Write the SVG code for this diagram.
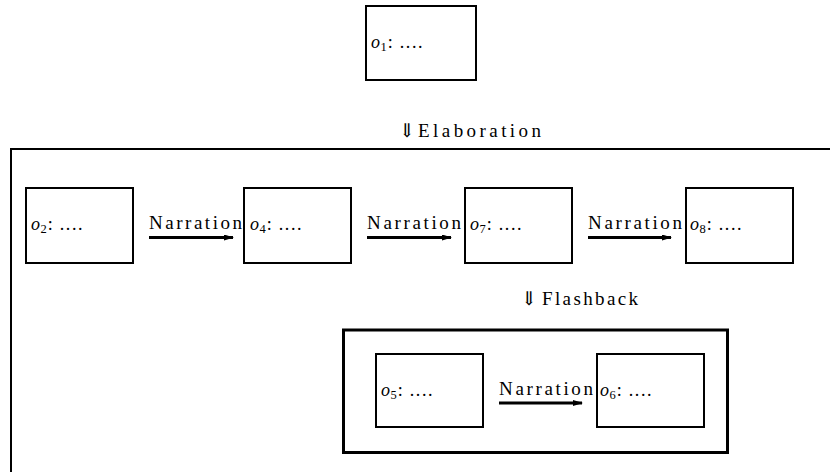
<svg xmlns="http://www.w3.org/2000/svg" width="830" height="472" viewBox="0 0 830 472">
<defs>
<style>
.box{fill:#fff;stroke:#000;stroke-width:2}
.frame{fill:none;stroke:#000;stroke-width:2}
.fb{fill:none;stroke:#000;stroke-width:3}
.t{font-family:"Liberation Serif","DejaVu Serif",serif;font-size:18px;fill:#000}
.lbl{font-size:19px}
.it{font-style:italic}
.sub{font-size:12.5px}
.dots{letter-spacing:1.6px}
.arr{stroke:#000;stroke-width:3;fill:none;marker-end:url(#ah)}
</style>
<marker id="ah" viewBox="0 0 10 6" refX="9" refY="3" markerWidth="3.4" markerHeight="2" orient="auto" markerUnits="strokeWidth">
<path d="M0,0 L10,3 L0,6 Z" fill="#000"/>
</marker>
</defs>
<rect width="830" height="472" fill="#fff"/>

<g id="frame-elaboration">
<path class="frame" d="M830,149 H11 V472"/>
</g>
<g id="frame-flashback">
<rect class="fb" x="343.5" y="330" width="384" height="122.5"/>
</g>

<g id="n1">
<rect class="box" x="366" y="6" width="110" height="74"/>
<text class="t" x="371" y="48"><tspan class="it">o</tspan><tspan class="sub" dx="0.5" dy="3">1</tspan><tspan dy="-3" dx="1">:</tspan><tspan class="dots" dx="7">....</tspan></text>
</g>
<g id="n2">
<rect class="box" x="26" y="188" width="107" height="75"/>
<text class="t" x="31" y="230"><tspan class="it">o</tspan><tspan class="sub" dx="0.5" dy="3">2</tspan><tspan dy="-3" dx="1">:</tspan><tspan class="dots" dx="7">....</tspan></text>
</g>
<g id="n4">
<rect class="box" x="244" y="188" width="107" height="75"/>
<text class="t" x="250" y="230"><tspan class="it">o</tspan><tspan class="sub" dx="0.5" dy="3">4</tspan><tspan dy="-3" dx="1">:</tspan><tspan class="dots" dx="7">....</tspan></text>
</g>
<g id="n7">
<rect class="box" x="465" y="188" width="107" height="75"/>
<text class="t" x="470" y="230"><tspan class="it">o</tspan><tspan class="sub" dx="0.5" dy="3">7</tspan><tspan dy="-3" dx="1">:</tspan><tspan class="dots" dx="7">....</tspan></text>
</g>
<g id="n8">
<rect class="box" x="686" y="188" width="107" height="75"/>
<text class="t" x="690" y="230"><tspan class="it">o</tspan><tspan class="sub" dx="0.5" dy="3">8</tspan><tspan dy="-3" dx="1">:</tspan><tspan class="dots" dx="7">....</tspan></text>
</g>
<g id="n5">
<rect class="box" x="376" y="354" width="107" height="73"/>
<text class="t" x="381" y="396"><tspan class="it">o</tspan><tspan class="sub" dx="0.5" dy="3">5</tspan><tspan dy="-3" dx="1">:</tspan><tspan class="dots" dx="7">....</tspan></text>
</g>
<g id="n6">
<rect class="box" x="597" y="354" width="107" height="73"/>
<text class="t" x="600" y="396"><tspan class="it">o</tspan><tspan class="sub" dx="0.5" dy="3">6</tspan><tspan dy="-3" dx="1">:</tspan><tspan class="dots" dx="7">....</tspan></text>
</g>

<g id="connectors">
<line class="arr" x1="149" y1="237.5" x2="233" y2="237.5"/>
<line class="arr" x1="367" y1="237.5" x2="451" y2="237.5"/>
<line class="arr" x1="588" y1="237.5" x2="671" y2="237.5"/>
<line class="arr" x1="499" y1="403" x2="582" y2="403"/>
<text class="t lbl" x="149" y="229" textLength="93">Narration</text>
<text class="t lbl" x="367" y="229" textLength="94">Narration</text>
<text class="t lbl" x="588" y="229" textLength="94">Narration</text>
<text class="t lbl" x="499" y="395" textLength="94">Narration</text>
<text class="t lbl" y="137"><tspan x="399">⇓</tspan><tspan x="418" textLength="123">Elaboration</tspan></text>
<text class="t lbl" y="305"><tspan x="521">⇓</tspan><tspan x="542" textLength="96">Flashback</tspan></text>
</g>
</svg>
